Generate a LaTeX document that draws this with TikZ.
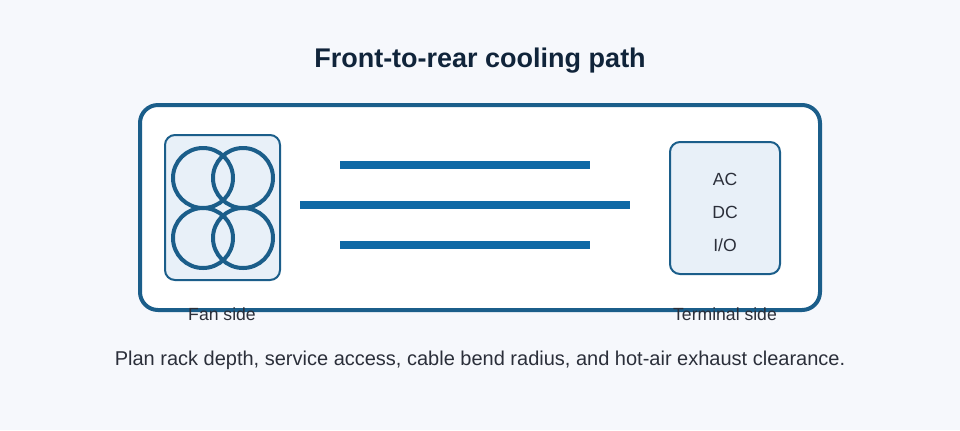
\documentclass[tikz,border=0pt]{standalone}
\usepackage{fontspec}
\setmainfont{Liberation Sans}
\definecolor{fondo}{HTML}{F6F8FC}
\definecolor{marco}{HTML}{1B5E8A}
\definecolor{barra}{HTML}{0F69A5}
\definecolor{caja}{HTML}{E8F0F8}
\definecolor{titulo}{HTML}{10243A}
\definecolor{texto}{HTML}{2B2F3A}
\tikzset{
  ventilador/.style={draw=marco, line width=3pt},
  caja lateral/.style={draw=marco, fill=caja, line width=1.5pt, rounded corners=7.5pt},
  flujo/.style={draw=barra, line width=6pt},
  etiqueta/.style={text=texto, font=\fontsize{13.2}{15}\selectfont, anchor=base},
}
\begin{document}
\begin{tikzpicture}[x=0.75pt, y=-0.75pt]

    % Fondo
    \useasboundingbox (0, 0) rectangle (960, 430);
    \fill[fondo] (0, 0) rectangle (960, 430);

    % Marco
    \draw[draw=marco, fill=white, line width=3pt, rounded corners=13.5pt] (140, 105) rectangle (820, 310);

    % Cajas
    \draw[caja lateral] (165, 135) rectangle (280, 280);
    \draw[caja lateral] (670, 142) rectangle (780, 274);

    % Ventiladores
    \foreach \cx in {203, 243} {
      \foreach \cy in {178, 238} {
        \draw[ventilador] (\cx, \cy) circle (22.5pt);
      }
    }

    % Flujo de aire
    \draw[flujo] (340, 165) -- (590, 165);
    \draw[flujo] (300, 205) -- (630, 205);
    \draw[flujo] (340, 245) -- (590, 245);

    % Etiquetas
    \node[text=titulo, font=\bfseries\fontsize{20.25}{24}\selectfont, anchor=base] (titulo) at (480, 67) {Front-to-rear cooling path};
    \node[etiqueta] (ac) at (725, 185) {AC};
    \node[etiqueta] (dc) at (725, 218) {DC};
    \node[etiqueta] (io) at (725, 251) {I/O};
    \node[etiqueta] (fan) at (222, 320) {Fan side};
    \node[etiqueta] (terminal) at (725, 320) {Terminal side};
    \node[text=texto, font=\fontsize{15}{18}\selectfont, anchor=base] (nota) at (480, 365) {Plan rack depth, service access, cable bend radius, and hot-air exhaust clearance.};

  \end{tikzpicture}
\end{document}
